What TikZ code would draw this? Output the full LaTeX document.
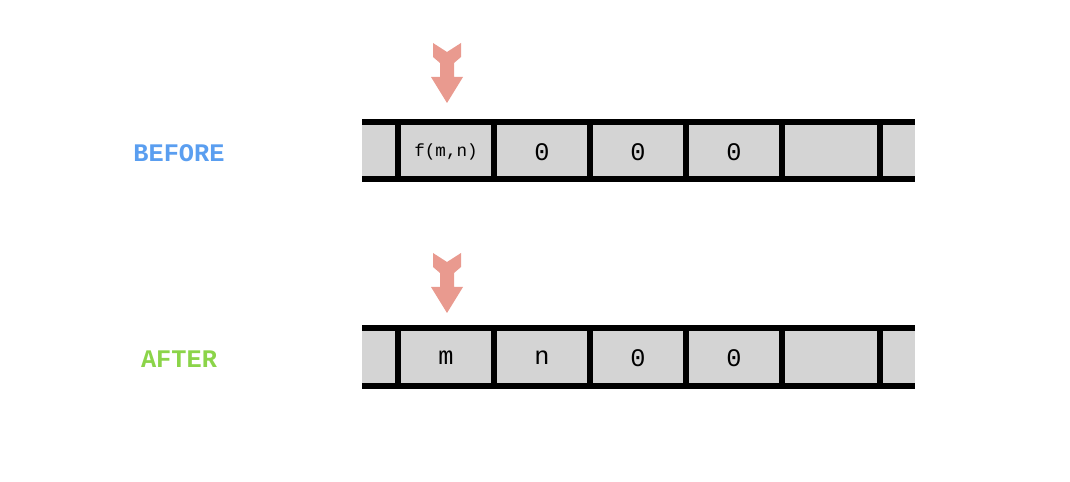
\documentclass[tikz,border=0pt]{standalone}
\usepackage{fontspec}
\setmonofont{Liberation Mono}
\definecolor{cellgray}{RGB}{212,212,212}
\definecolor{arrowred}{RGB}{233,154,143}
\definecolor{beforeblue}{RGB}{90,158,240}
\definecolor{aftergreen}{RGB}{139,212,73}
\tikzset{
  cell/.style={draw=none, fill=cellgray, minimum height=57, inner sep=0pt, font=\ttfamily\Large},
  tapeline/.style={line width=3.5},
  pointer/.style={fill=arrowred, draw=none},
  tag/.style={font=\ttfamily\bfseries\Large}
}
\newcommand{\pointerat}[2]{%
  \fill[pointer] (#1-14,#2) -- (#1,#2+9) -- (#1+14,#2) -- (#1+14,#2+14) -- (#1+7,#2+20)
    -- (#1+7,#2+34) -- (#1+16,#2+34) -- (#1,#2+60) -- (#1-16,#2+34) -- (#1-7,#2+34)
    -- (#1-7,#2+20) -- (#1-14,#2+14) -- cycle;}
\begin{document}
\begin{tikzpicture}[x=0.02cm, y=-0.02cm]
\useasboundingbox (0,0) rectangle (1070,482);
% before tape
\fill[cellgray] (362,122) rectangle (915,179);
\draw[tapeline] (362,122) -- (915,122) (362,179) -- (915,179);
\foreach \x in {398,494,590,686,782,880}
  \draw[tapeline] (\x,122) -- (\x,179);
\node[font=\ttfamily] (b1) at (446,152) {f(m,n)};
\node[cell, fill=none] (b2) at (542,152) {0};
\node[cell, fill=none] (b3) at (638,152) {0};
\node[cell, fill=none] (b4) at (734,152) {0};
\node[tag, text=beforeblue] (before) at (179,153) {BEFORE};
\pointerat{447}{43}
% after tape
\fill[cellgray] (362,328) rectangle (915,386);
\draw[tapeline] (362,328) -- (915,328) (362,386) -- (915,386);
\foreach \x in {398,494,590,686,782,880}
  \draw[tapeline] (\x,328) -- (\x,386);
\node[cell, fill=none] (a1) at (446,358) {m};
\node[cell, fill=none] (a2) at (542,358) {n};
\node[cell, fill=none] (a3) at (638,358) {0};
\node[cell, fill=none] (a4) at (734,358) {0};
\node[tag, text=aftergreen] (after) at (179,359) {AFTER};
\pointerat{447}{253}
\end{tikzpicture}
\end{document}
